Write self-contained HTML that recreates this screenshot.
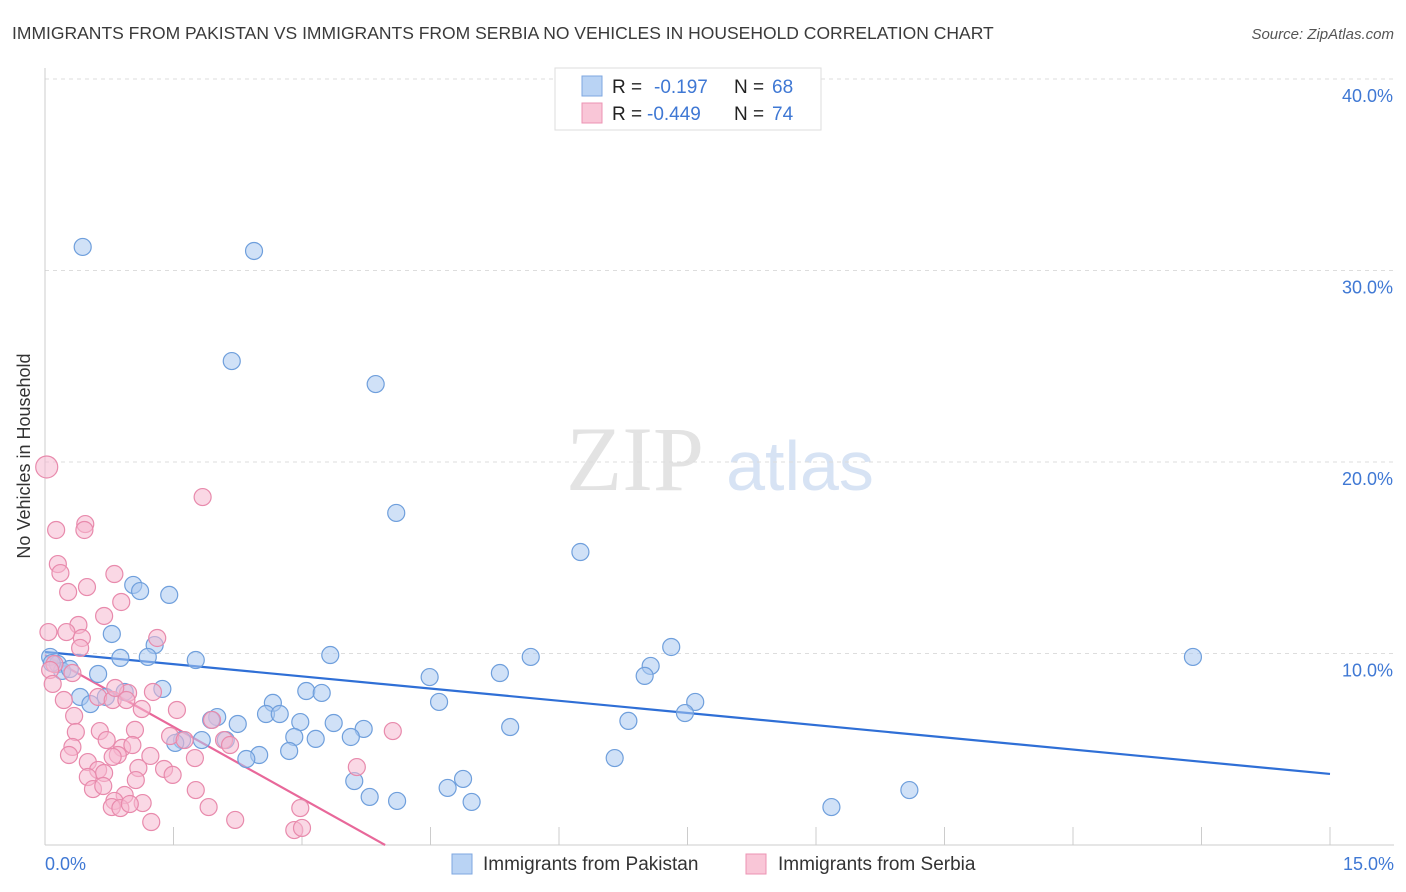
<!DOCTYPE html>
<html><head><meta charset="utf-8"><style>
body{margin:0;background:#fff;font-family:"Liberation Sans",sans-serif;}
#wrap{position:relative;width:1406px;height:892px;overflow:hidden;}
</style></head><body>
<div id="wrap">
<svg id="svg" width="1406" height="892" xmlns="http://www.w3.org/2000/svg">
<text x="12" y="39" font-size="17.5" fill="#3a3a3a">IMMIGRANTS FROM PAKISTAN VS IMMIGRANTS FROM SERBIA NO VEHICLES IN HOUSEHOLD CORRELATION CHART</text>
<text x="1394" y="39" font-size="15" fill="#555" font-style="italic" text-anchor="end">Source: ZipAtlas.com</text>
<text x="30" y="456" font-size="18" fill="#333" text-anchor="middle" transform="rotate(-90 30 456)">No Vehicles in Household</text>
<g><text x="635" y="490" font-size="92" font-family="Liberation Serif, serif" fill="#e3e3e3" text-anchor="middle">ZIP</text><text x="800" y="490" font-size="70" fill="#d7e3f4" text-anchor="middle">atlas</text></g>
<g id="grid"></g><g id="axes"></g><g id="trend"></g><g id="pts"></g>
<g>
<rect x="555" y="68" width="266" height="62" fill="#fff" stroke="#ddd"/>
<rect x="582" y="76" width="20" height="20" fill="#b9d3f4" stroke="#7ea7e0"/>
<rect x="582" y="103" width="20" height="20" fill="#f9c6d7" stroke="#ec93b3"/>
<text x="612" y="93" font-size="19" fill="#222">R = </text><text x="654" y="93" font-size="19" fill="#3f78d4">-0.197</text>
<text x="734" y="93" font-size="19" fill="#222">N = </text><text x="772" y="93" font-size="19" fill="#3f78d4">68</text>
<text x="612" y="120" font-size="19" fill="#222">R = </text><text x="647" y="120" font-size="19" fill="#3f78d4">-0.449</text>
<text x="734" y="120" font-size="19" fill="#222">N = </text><text x="772" y="120" font-size="19" fill="#3f78d4">74</text>
</g>
<g>
<rect x="452" y="854" width="20" height="20" fill="#b9d3f4" stroke="#7ea7e0"/>
<text x="483" y="870" font-size="19" fill="#333">Immigrants from Pakistan</text>
<rect x="746" y="854" width="20" height="20" fill="#f9c6d7" stroke="#ec93b3"/>
<text x="778" y="870" font-size="19" fill="#333">Immigrants from Serbia</text>
</g>
</svg>
</div>
<script>
const xTicks=[0,1.5,3,4.5,6,7.5,9,10.5,12,13.5,15];
const yTicks=[10,20,30,40];
const yTickLabels=["10.0%","20.0%","30.0%","40.0%"];
const xEndLabels=["0.0%","15.0%"];
const pakX=[0.44,2.44,2.18,3.86,4.10,6.25,1.03,1.11,1.45,0.78,1.28,0.88,1.20,1.76,3.33,5.67,7.31,7.07,7.00,13.40,0.06,0.15,0.20,0.29,0.62,0.71,0.41,0.53,0.93,1.37,4.49,5.31,3.05,3.23,2.66,2.58,2.74,2.01,1.94,2.25,2.98,3.37,3.72,4.60,7.59,7.47,6.81,5.43,1.60,1.83,2.11,1.52,2.91,3.16,3.57,2.50,2.35,2.85,6.65,3.61,4.88,4.70,3.79,4.11,4.98,9.18,10.09,0.08];
const pakY=[31.23,31.02,25.27,24.07,17.34,15.30,13.58,13.26,13.06,11.02,10.44,9.77,9.82,9.66,9.92,9.82,10.34,9.35,8.83,9.82,9.82,9.45,9.09,9.19,8.93,7.73,7.73,7.36,7.99,8.15,8.77,8.98,8.04,7.94,7.42,6.84,6.84,6.68,6.53,6.32,6.42,6.37,6.06,7.47,7.47,6.89,6.48,6.16,5.48,5.48,5.48,5.33,5.64,5.54,5.64,4.70,4.49,4.91,4.54,3.34,3.45,2.98,2.51,2.30,2.25,1.98,2.87,9.50];
const serX=[0.02,0.13,0.47,0.46,1.84,0.15,0.18,0.49,0.81,0.27,0.89,0.69,0.39,0.25,0.43,1.31,0.04,0.41,0.11,0.06,0.32,0.09,0.22,0.62,0.97,0.79,0.82,1.26,0.95,1.13,1.54,1.95,0.34,0.36,0.64,1.05,0.72,1.46,0.90,2.09,2.16,0.32,0.28,0.85,1.02,1.23,1.75,0.50,0.79,4.06,0.62,0.69,1.09,1.39,3.64,1.49,0.50,1.06,0.56,0.68,0.93,0.81,1.14,0.78,0.88,1.91,2.98,2.22,1.24,2.91,3.00,1.76,1.63,0.99];
const serY=[19.74,16.45,16.76,16.45,18.17,14.67,14.20,13.47,14.15,13.21,12.69,11.96,11.49,11.12,10.81,10.81,11.12,10.29,9.45,9.14,8.98,8.41,7.57,7.73,7.94,7.57,8.20,7.99,7.57,7.10,7.05,6.53,6.74,5.90,5.95,6.01,5.48,5.69,5.07,5.48,5.22,5.12,4.70,4.70,5.22,4.65,4.54,4.33,4.60,5.95,3.92,3.76,4.02,3.97,4.07,3.66,3.55,3.39,2.92,3.08,2.61,2.30,2.19,1.98,1.93,1.98,1.93,1.31,1.20,0.78,0.89,2.87,5.48,2.14];
const pakTrend=[[0,10.08],[15,3.71]];
const serTrend=[[0,9.92],[3.97,0]];
const NS="http://www.w3.org/2000/svg";
const X0=45,X1=1330,Y0=845,YPX=19.15;
function sx(v){return X0+(X1-X0)*v/15;}
function sy(v){return Y0-YPX*v;}
function mk(tag,attrs,parent){const e=document.createElementNS(NS,tag);for(const k in attrs)e.setAttribute(k,attrs[k]);parent.appendChild(e);return e;}
const grid=document.getElementById('grid'),axes=document.getElementById('axes');
yTicks.forEach((t,i)=>{
 const l=mk('line',{x1:X0,x2:1394,y1:sy(t),y2:sy(t),stroke:'#ddd','stroke-dasharray':'4,4'},grid);
 
 
 const tx=mk('text',{x:1393,y:sy(t)+23,'font-size':18,fill:'#3f78d4','text-anchor':'end'},axes);
 tx.textContent=yTickLabels[i];
 
 
});
const ax=mk('line',{x1:X0,x2:1394,y1:Y0,y2:Y0,stroke:'#ccc'},axes);


const ay=mk('line',{x1:X0,x2:X0,y1:68,y2:Y0,stroke:'#ccc'},axes);


xTicks.forEach(t=>{
 const l=mk('line',{x1:sx(t),x2:sx(t),y1:Y0-18,y2:Y0,stroke:'#ccc'},axes);
 
 
});
[[0,'start',45],[1,'end',1394]].forEach(([i,a,x])=>{
 const tx=mk('text',{x:x,y:870,'font-size':18,fill:'#3f78d4','text-anchor':a},axes);
 tx.textContent=xEndLabels[i];
 
 
});
const pts=document.getElementById('pts'),trend=document.getElementById('trend');
function series(xs,ys,fill,stroke,name){
 xs.forEach((x,i)=>{
  const c=mk('circle',{cx:sx(x),cy:sy(ys[i]),r:(i===0&&name==='point-serbia')?11:8.5,fill:fill,'fill-opacity':0.55,stroke:stroke,'stroke-width':1.2},pts);
  
  
 });
}
series(pakX,pakY,'#a9c8f0','#6f9fdc','point-pakistan');
series(serX,serY,'#f6b8cf','#e88aac','point-serbia');
const tl1=mk('line',{x1:sx(pakTrend[0][0]),y1:sy(pakTrend[0][1]),x2:sx(pakTrend[1][0]),y2:sy(pakTrend[1][1]),stroke:'#2f6fd6','stroke-width':2.2},trend);


const tl2=mk('line',{x1:sx(serTrend[0][0]),y1:sy(serTrend[0][1]),x2:sx(serTrend[1][0]),y2:sy(serTrend[1][1]),stroke:'#e8689a','stroke-width':2.2},trend);


</script>
</body></html>
